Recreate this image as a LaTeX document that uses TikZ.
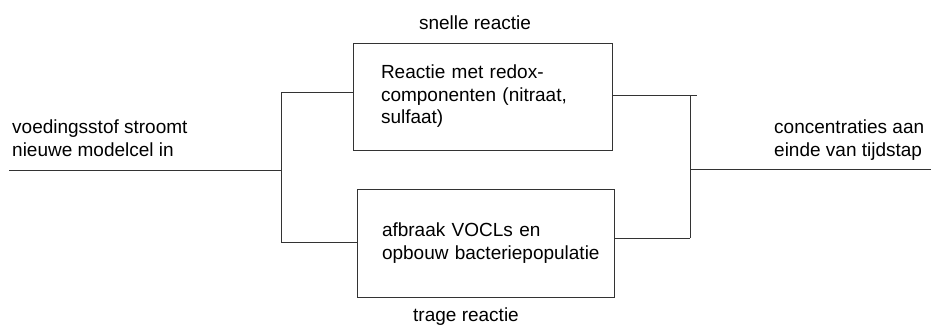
\documentclass[tikz,border=0pt]{standalone}
\usepackage{fontspec}
\setmainfont{Liberation Sans}
\usetikzlibrary{positioning}

\tikzset{
  reactbox/.style={draw=black!80, line width=1pt, align=left, inner ysep=0pt},
  wire/.style={draw=black!80, line width=1pt},
  flowtext/.style={align=left, anchor=base west}
}

\begin{document}
\begin{tikzpicture}[x=1pt, y=-1pt, font=\fontsize{19}{22.5}\selectfont, every node/.style={inner sep=0pt}]
   \useasboundingbox (0,0) rectangle (931,324);

   % reacties
   \node[reactbox, minimum width=259pt, minimum height=107pt, inner xsep=28pt, text width=203pt] (fast) at (482.5,96.5) {Reactie met redox-\\componenten (nitraat,\\sulfaat)};
   \node[reactbox, minimum width=257pt, minimum height=108pt, inner xsep=25pt, text width=207pt] (slow) at (485.5,243) {afbraak VOCLs en\\\mbox{opbouw bacteriepopulatie}};

   % labels
   \node[above=13pt of fast.north, anchor=base, xshift=-7.5pt] (fastlabel) {snelle reactie};
   \node[below=24pt of slow.south, anchor=base, xshift=-19.5pt] (slowlabel) {trage reactie};
   \node[flowtext] (intext) at (12,156) {voedingsstof stroomt\\nieuwe modelcel in};
   \node[flowtext] (outtext) at (774,156) {concentraties aan\\einde van tijdstap};

   % vertakking links
   \coordinate (in) at (9,170);
   \coordinate (split) at (281,170);
   \coordinate (splittop) at (281,92);
   \coordinate (splitbot) at (281,242);
   \draw[wire] (in) -- (split);
   \draw[wire] (splittop) -- (splitbot);
   \draw[wire] (splittop) -- (splittop -| fast.west);
   \draw[wire] (splitbot) -- (splitbot -| slow.west);

   % samenvoegen rechts
   \coordinate (jointop) at (690,95);
   \coordinate (joinbot) at (690,238);
   \coordinate (join) at (690,169);
   \coordinate (out) at (931,169);
   \draw[wire] (fast.east |- jointop) -- ([xshift=7pt]jointop);
   \draw[wire] (jointop) -- (joinbot);
   \draw[wire] (slow.east |- joinbot) -- (joinbot);
   \draw[wire] (join) -- (out);
\end{tikzpicture}
\end{document}
